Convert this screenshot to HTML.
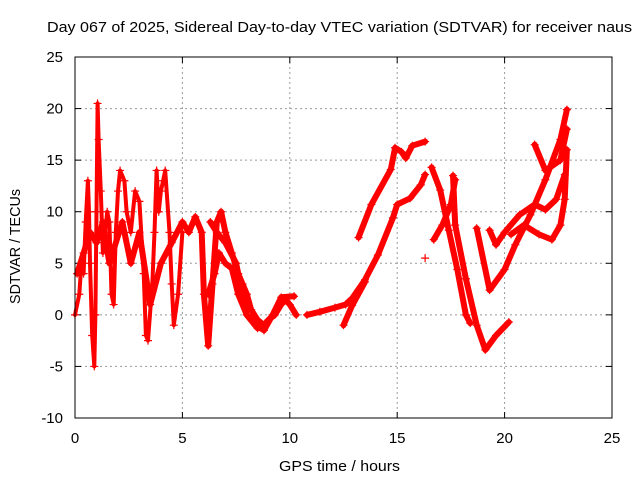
<!DOCTYPE html>
<html><head><meta charset="utf-8"><style>
body{margin:0;background:#fff;}
svg{display:block;font-family:"Liberation Sans",sans-serif;}
</style></head><body>
<svg id="chart" width="640" height="480">
<rect width="640" height="480" fill="#fff"/>
<text x="47" y="32" font-size="15" textLength="585" lengthAdjust="spacingAndGlyphs">Day 067 of 2025, Sidereal Day-to-day VTEC variation (SDTVAR) for receiver naus</text>
<text x="279" y="471" font-size="15" textLength="121" lengthAdjust="spacingAndGlyphs">GPS time / hours</text>
<text x="0" y="0" font-size="15" textLength="115" lengthAdjust="spacingAndGlyphs" transform="translate(20 304) rotate(-90)">SDTVAR / TECUs</text>
<g id="grid"></g><g id="marks"></g>
<rect x="75" y="57" width="537" height="361" fill="none" stroke="#000"/>
</svg>
<script>
const xTicks=[0,5,10,15,20,25];
const yTicks=[-10,-5,0,5,10,15,20,25];
const traceA=[[13.2,7.5],[13.8,10.7],[14.7,14.1],[14.9,16.2],[15.2,15.8],[15.4,15.2],[15.7,16.4],[16.3,16.8]];
const traceB=[[10.8,0],[11.4,0.3],[12.1,0.7],[12.6,1.0],[12.9,1.6],[13.5,3.4],[14.1,5.8],[14.8,9.4],[15.0,10.7],[15.6,11.3],[16.1,12.6],[16.3,13.6]];
const traceB2=[[12.5,-1],[12.9,0.9],[13.5,3.2]];
const traceC=[[16.6,14.3],[17.0,12.1],[17.4,8.2],[17.8,4.4],[18.2,0],[18.4,-0.8]];
const traceD=[[16.7,7.3],[17.1,8.7],[17.5,10.7],[17.7,13.1]];
const traceE=[[17.6,13.5],[17.7,8.7],[18.2,3.5],[18.7,-1],[19.1,-3.4],[19.6,-2],[20.2,-0.7]];
const traceF=[[18.7,8.4],[19.3,2.4],[20.0,4.4],[20.5,6.8],[21.2,9.7],[21.9,13.1],[22.6,17],[22.9,19.9]];
const traceG=[[19.3,8.2],[19.6,6.8],[20.0,8.0],[20.7,9.7],[21.4,10.7],[21.9,10.2],[22.4,11.2],[22.8,13.6]];
const traceH=[[20.3,7.8],[20.9,8.7],[21.6,7.8],[22.2,7.3],[22.6,8.7],[22.8,11.2],[22.9,16]];
const traceI=[[21.4,16.5],[21.9,14],[22.6,15],[22.9,18]];
const traceL1=[[0.0,0],[0.2,2],[0.3,5],[0.4,4],[0.5,9],[0.6,13],[0.65,10],[0.7,5],[0.8,-2],[0.9,-5],[0.95,0],[1.0,10],[1.05,20.5],[1.1,17],[1.2,12],[1.3,6],[1.4,8],[1.5,10],[1.6,9],[1.7,2],[1.8,1],[1.9,8],[2.0,12],[2.1,14],[2.3,13],[2.4,10],[2.6,8],[2.8,12],[3.0,11],[3.2,4],[3.3,-2],[3.4,-2.5],[3.6,3],[3.7,8],[3.8,14],[3.9,10],[4.0,12],[4.1,13],[4.2,14],[4.4,8],[4.5,3],[4.6,-1],[4.8,2],[5.0,8]];
const traceL2=[[0.1,4],[0.4,6],[0.7,8],[1.0,7],[1.3,9],[1.6,5],[2.2,9],[2.6,5],[3.0,8],[3.5,1],[4.0,5],[4.5,7],[5.0,9],[5.3,8],[5.6,9.5],[5.9,8],[6.0,2],[6.2,-3],[6.4,3],[6.6,9],[6.8,10],[7.0,8],[7.3,6],[7.6,4],[7.8,3],[8.0,2],[8.2,0.5],[8.5,-0.5],[8.8,-1],[9.0,-0.5],[9.3,0],[9.6,1],[9.8,1.5],[10.0,1],[10.3,0]];
const traceL3=[[6.2,2],[6.5,4],[6.7,6],[7.0,5],[7.3,4.5],[7.6,2],[8.0,0],[8.4,-1],[8.8,-1.5],[9.2,0],[9.6,1.7],[10.2,1.8]];
const traceL4=[[6.3,9],[6.6,8],[7.0,7],[7.5,5],[8.0,0],[8.5,-1.3]];
const traceSingle=[[16.3,5.5]];
const traces=[traceA,traceB,traceB2,traceC,traceD,traceE,traceF,traceG,traceH,traceI,traceL1,traceL2,traceL3,traceL4,traceSingle];
const NS='http://www.w3.org/2000/svg';
const X0=75,X1=612,Y0=418,Y1=57;
function xs(t){return X0+(t-0)/(25-0)*(X1-X0);}
function ys(v){return Y0-(v+10)/35*(Y0-Y1);}
const grid=document.getElementById('grid'),marks=document.getElementById('marks'),svg=document.getElementById('chart');
function mk(tag,a,p){const e=document.createElementNS(NS,tag);for(const k in a)e.setAttribute(k,a[k]);(p||grid).appendChild(e);return e;}
xTicks.forEach(t=>{const x=xs(t);
 if(t>0&&t<25){const l=mk('line',{x1:x,x2:x,y1:Y1,y2:Y0,stroke:'#999','stroke-dasharray':'2,3'});
 
 }
 mk('line',{x1:x,x2:x,y1:Y0,y2:Y0-6,stroke:'#000'});mk('line',{x1:x,x2:x,y1:Y1,y2:Y1+6,stroke:'#000'});
 const tx=mk('text',{x:x,y:443,'font-size':15,'text-anchor':'middle'},svg);tx.textContent=t;
 
 });
yTicks.forEach(v=>{const y=ys(v);
 if(v>-10&&v<25){const l=mk('line',{x1:X0,x2:X1,y1:y,y2:y,stroke:'#999','stroke-dasharray':'2,3'});
 
 }
 mk('line',{x1:X0,x2:X0+6,y1:y,y2:y,stroke:'#000'});mk('line',{x1:X1,x2:X1-6,y1:y,y2:y,stroke:'#000'});
 const tx=mk('text',{x:63,y:y+5,'font-size':15,'text-anchor':'end'},svg);tx.textContent=v;
 
 });
traces.forEach((tr,i)=>{
 const d=tr.map((p,j)=>(j?'L':'M')+xs(p[0]).toFixed(1)+','+ys(p[1]).toFixed(1)).join('');
 if(tr.length>1){const pa=mk('path',{d:d,fill:'none',stroke:'#f00','stroke-width':i===10?4:(i>=11?6:6),'stroke-linejoin':'round','stroke-linecap':'round'},marks);
 
 }
 tr.forEach(p=>{const x=xs(p[0]),y=ys(p[1]);
  const g=mk('path',{d:`M${x-4},${y}h8M${x},${y-4}v8`,stroke:'#f00','stroke-width':1.2},marks);
  
  });
});
</script>
</body></html>
